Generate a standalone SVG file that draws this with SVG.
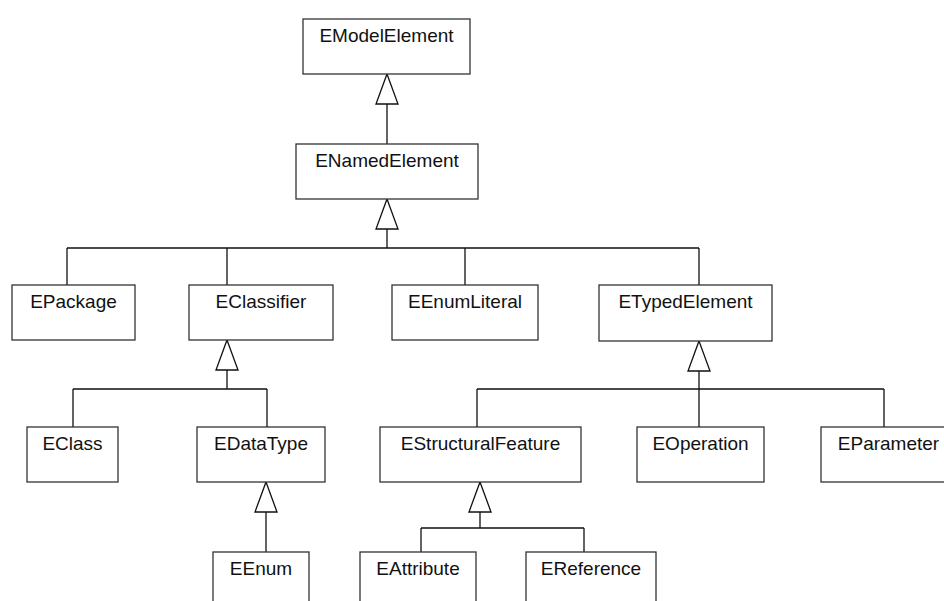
<svg xmlns="http://www.w3.org/2000/svg" width="944" height="601" viewBox="0 0 944 601">
  <style>
    .box { fill: #ffffff; stroke: #333333; stroke-width: 1.3; }
    .lbl { font-family: "Liberation Sans", Arial, sans-serif; font-size: 19px; fill: #111111; text-anchor: middle; }
    .wire { fill: none; stroke: #111111; stroke-width: 1.3; }
    .gen { fill: #ffffff; stroke: #111111; stroke-width: 1.3; stroke-linejoin: miter; }
  </style>
  <defs>
    <!-- hollow generalization triangle, apex at origin pointing up -->
    <polygon id="tri" class="gen" points="0,0 11,30 -11,30"/>
  </defs>
  <rect width="944" height="601" fill="#ffffff"/>

  <g id="connectors">
    <!-- ENamedElement -> EModelElement -->
    <line class="wire" x1="387" y1="104" x2="387" y2="144"/>
    <use href="#tri" x="387" y="74"/>

    <!-- level 2 children -> ENamedElement -->
    <path class="wire" d="M387 229 V248 M67 248 H699 M67 248 V285 M227 248 V285 M465 248 V285 M699 248 V285"/>
    <use href="#tri" x="387" y="199"/>

    <!-- EClass, EDataType -> EClassifier -->
    <path class="wire" d="M227 370 V389 M73 389 H267 M73 389 V427 M267 389 V427"/>
    <use href="#tri" x="227" y="340"/>

    <!-- EEnum -> EDataType -->
    <line class="wire" x1="266" y1="512" x2="266" y2="552"/>
    <use href="#tri" x="266" y="482"/>

    <!-- EStructuralFeature, EOperation, EParameter -> ETypedElement -->
    <path class="wire" d="M699 371 V389 M477 389 H884 M477 389 V427 M699 389 V427 M884 389 V427"/>
    <use href="#tri" x="699" y="341"/>

    <!-- EAttribute, EReference -> EStructuralFeature -->
    <path class="wire" d="M480 512 V528 M421 528 H584 M421 528 V552 M584 528 V552"/>
    <use href="#tri" x="480" y="482"/>
  </g>

  <g id="EModelElement">
    <rect class="box" x="303" y="19" width="167" height="55"/>
    <text class="lbl" x="386.5" y="42">EModelElement</text>
  </g>
  <g id="ENamedElement">
    <rect class="box" x="296" y="144" width="182" height="55"/>
    <text class="lbl" x="387" y="167">ENamedElement</text>
  </g>
  <g id="EPackage">
    <rect class="box" x="12" y="285" width="123" height="55"/>
    <text class="lbl" x="73.5" y="308">EPackage</text>
  </g>
  <g id="EClassifier">
    <rect class="box" x="189" y="285" width="144" height="55"/>
    <text class="lbl" x="261" y="308">EClassifier</text>
  </g>
  <g id="EEnumLiteral">
    <rect class="box" x="392" y="285" width="146" height="55"/>
    <text class="lbl" x="465" y="308">EEnumLiteral</text>
  </g>
  <g id="ETypedElement">
    <rect class="box" x="599" y="285" width="173" height="56"/>
    <text class="lbl" x="685.5" y="308">ETypedElement</text>
  </g>
  <g id="EClass">
    <rect class="box" x="27" y="427" width="91" height="55"/>
    <text class="lbl" x="72.5" y="450">EClass</text>
  </g>
  <g id="EDataType">
    <rect class="box" x="197" y="427" width="128" height="55"/>
    <text class="lbl" x="261" y="450">EDataType</text>
  </g>
  <g id="EStructuralFeature">
    <rect class="box" x="380" y="427" width="201" height="55"/>
    <text class="lbl" x="480.5" y="450">EStructuralFeature</text>
  </g>
  <g id="EOperation">
    <rect class="box" x="637" y="427" width="127" height="55"/>
    <text class="lbl" x="700.5" y="450">EOperation</text>
  </g>
  <g id="EParameter">
    <rect class="box" x="821" y="427" width="135" height="55"/>
    <text class="lbl" x="888.5" y="450">EParameter</text>
  </g>
  <g id="EEnum">
    <rect class="box" x="213" y="552" width="96" height="60"/>
    <text class="lbl" x="261" y="575">EEnum</text>
  </g>
  <g id="EAttribute">
    <rect class="box" x="360" y="552" width="116" height="60"/>
    <text class="lbl" x="418" y="575">EAttribute</text>
  </g>
  <g id="EReference">
    <rect class="box" x="526" y="552" width="130" height="60"/>
    <text class="lbl" x="591" y="575">EReference</text>
  </g>
</svg>
